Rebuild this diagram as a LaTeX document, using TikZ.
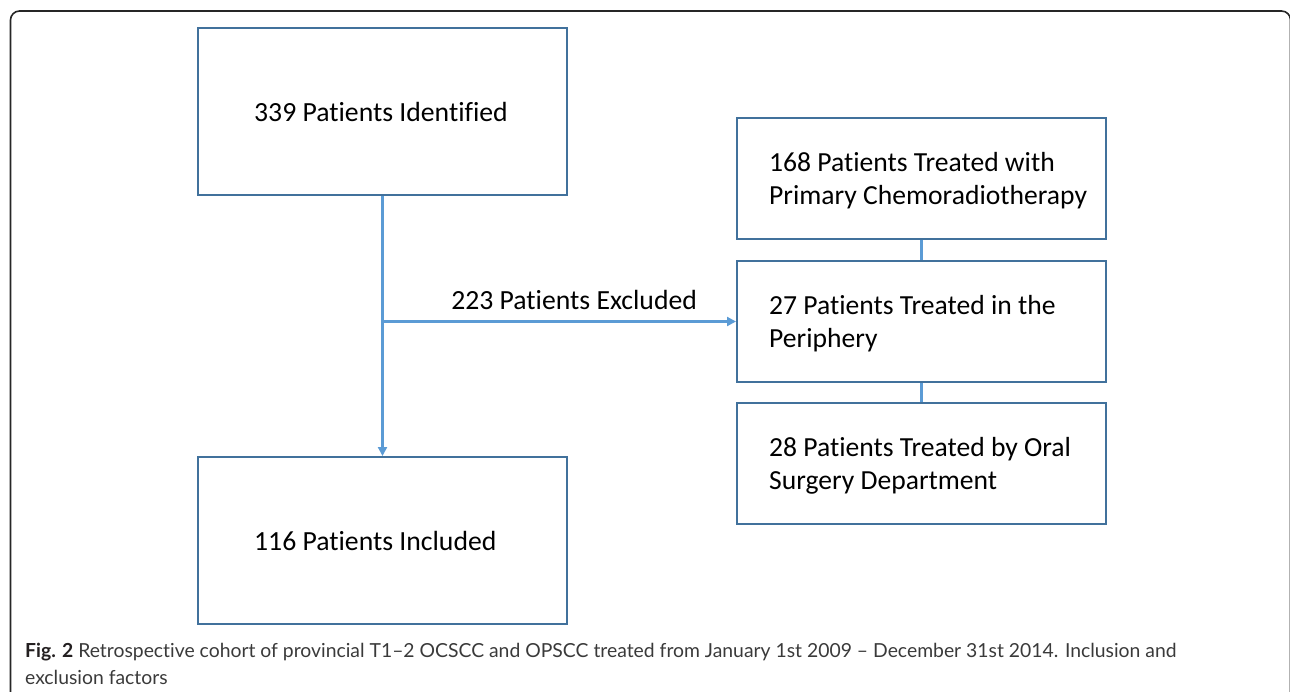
\documentclass[tikz,border=0pt]{standalone}
\usepackage{fontspec}
\setmainfont{Carlito}[Ligatures={TeX,NoCommon}]
\newfontfamily\capfont{Lato}[Ligatures={TeX,NoCommon}]
\usetikzlibrary{arrows.meta,calc}
\definecolor{boxblue}{HTML}{41719C}
\definecolor{linkblue}{HTML}{5B9BD5}
\definecolor{capgray}{HTML}{3A3A3A}
\definecolor{capdark}{HTML}{231F20}
\begin{document}
\begin{tikzpicture}[x=1pt,y=-1pt,
  bigbox/.style={draw=boxblue, line width=2pt, minimum width=369pt, minimum height=167pt, inner sep=0pt},
  smallbox/.style={draw=boxblue, line width=2pt, minimum width=369pt, minimum height=121pt, inner sep=0pt},
  bigtext/.style={anchor=west, inner sep=0pt, font=\fontsize{27.7}{33}\selectfont},
  boxtext/.style={anchor=west, align=left, inner sep=0pt, yshift=-2pt, font=\fontsize{27.6}{33}\selectfont},
  link/.style={draw=linkblue, line width=2.2pt},
  linkarrow/.style={link, -{Triangle[length=9pt,width=9pt]}},
  frame/.style={draw=black!85, line width=1.6pt, rounded corners=9pt}
]
\useasboundingbox (0,0) rectangle (1290,691);
\clip (0,0) rectangle (1290,691);
\draw[frame] (10.5,760) -- (10.5,11) -- (1290.5,11) -- (1290.5,760);

\node[bigbox] (a) at (382.5,111.5) {};
\node[bigbox] (b) at (382.5,540.5) {};
\node[bigtext] (at) at ($(a.west)+(57,0)$) {339 Patients Identified};
\node[bigtext] (bt) at ($(b.west)+(57,0)$) {116 Patients Included};

\node[smallbox] (c) at (921.5,178.5) {};
\node[smallbox] (d) at (921.5,321.5) {};
\node[smallbox] (e) at (921.5,463.5) {};

\node[boxtext] (ct) at ($(c.west)+(33,0)$) {168 Patients Treated with\\Primary Chemoradiotherapy};
\node[boxtext] (dt) at ($(d.west)+(33,0)$) {27 Patients Treated in the\\Periphery};
\node[boxtext] (et) at ($(e.west)+(33,0)$) {28 Patients Treated by Oral\\Surgery Department};

\draw[linkarrow] (a.south) -- (b.north);
\coordinate (j) at (a.south |- d.west);
\draw[linkarrow] (j) -- node[pos=0.542, anchor=base, yshift=12pt, inner sep=0pt, font=\fontsize{27.7}{33}\selectfont] (exl) {223 Patients Excluded} (d.west);
\draw[link] (c.south) -- (d.north);
\draw[link] (d.south) -- (e.north);

\node[anchor=base west, align=left, inner sep=0pt, font=\capfont\fontsize{19.35}{27}\selectfont, text=capgray] (cap) at (25,684)
  {{\color{capdark}\bfseries Fig. 2} Retrospective cohort of provincial T1–2 OCSCC and OPSCC treated from January 1st 2009 – December 31st 2014. Inclusion and\\exclusion factors};
\end{tikzpicture}
\end{document}
